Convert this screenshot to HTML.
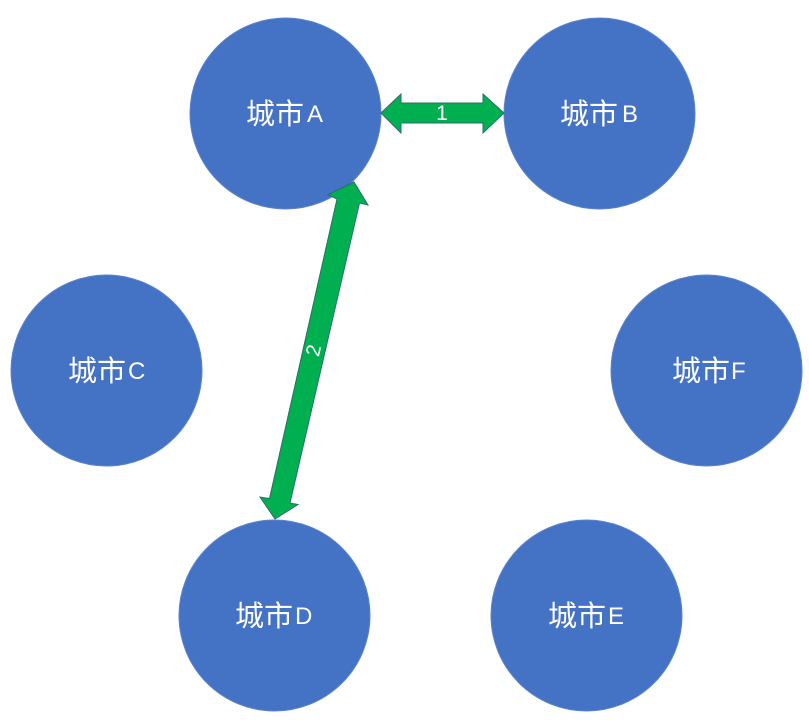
<!DOCTYPE html>
<html>
<head>
<meta charset="utf-8">
<style>
html,body{margin:0;padding:0;background:#fff}
svg{display:block}
text{font-family:"Liberation Sans","Noto Sans CJK SC",sans-serif;fill:#fff}
.c{font-size:29px;font-family:"Noto Sans CJK SC","Liberation Sans",sans-serif;font-weight:400}
.l{font-size:24px}
</style>
</head>
<body>
<svg width="809" height="724" viewBox="0 0 809 724" xmlns="http://www.w3.org/2000/svg">
<rect width="809" height="724" fill="#fff"/>
<g fill="#4472c4" stroke="#5b84cc" stroke-width="1">
<circle cx="285.500" cy="113.500" r="95.500"/>
<circle cx="599.500" cy="113.500" r="95.500"/>
<circle cx="106.500" cy="370.500" r="95.500"/>
<circle cx="706.500" cy="370.500" r="95.500"/>
<circle cx="274.500" cy="615.500" r="95.500"/>
<circle cx="586.500" cy="615.500" r="95.500"/>
</g>
<text class="c" x="246" y="124">城市</text><text class="l" x="307" y="122">A</text>
<text class="c" x="560" y="124">城市</text><text class="l" x="622" y="122">B</text>
<text class="c" x="68" y="381">城市</text><text class="l" x="128" y="379">C</text>
<text class="c" x="672" y="381">城市</text><text class="l" x="731" y="379">F</text>
<text class="c" x="235" y="626">城市</text><text class="l" x="295" y="624">D</text>
<text class="c" x="548" y="626">城市</text><text class="l" x="608" y="624">E</text>
<g fill="#00b050" stroke="#2a6f6a" stroke-width="1" stroke-linejoin="miter">
<polygon points="381,113 401,94 401,103 483,103 483,94 504,113 483,133 483,123 401,123 401,133"/>
<polygon points="354,182 368,205 359.500,203 290,503 298,504.500 275,519 260,497 269.500,498.500 337,199 328,194.500"/>
</g>
<text x="442" y="120" font-size="21" text-anchor="middle">1</text>
<text x="0" y="0" font-size="20" text-anchor="middle" transform="translate(320,352) rotate(-77)">2</text>
</svg>
</body>
</html>
